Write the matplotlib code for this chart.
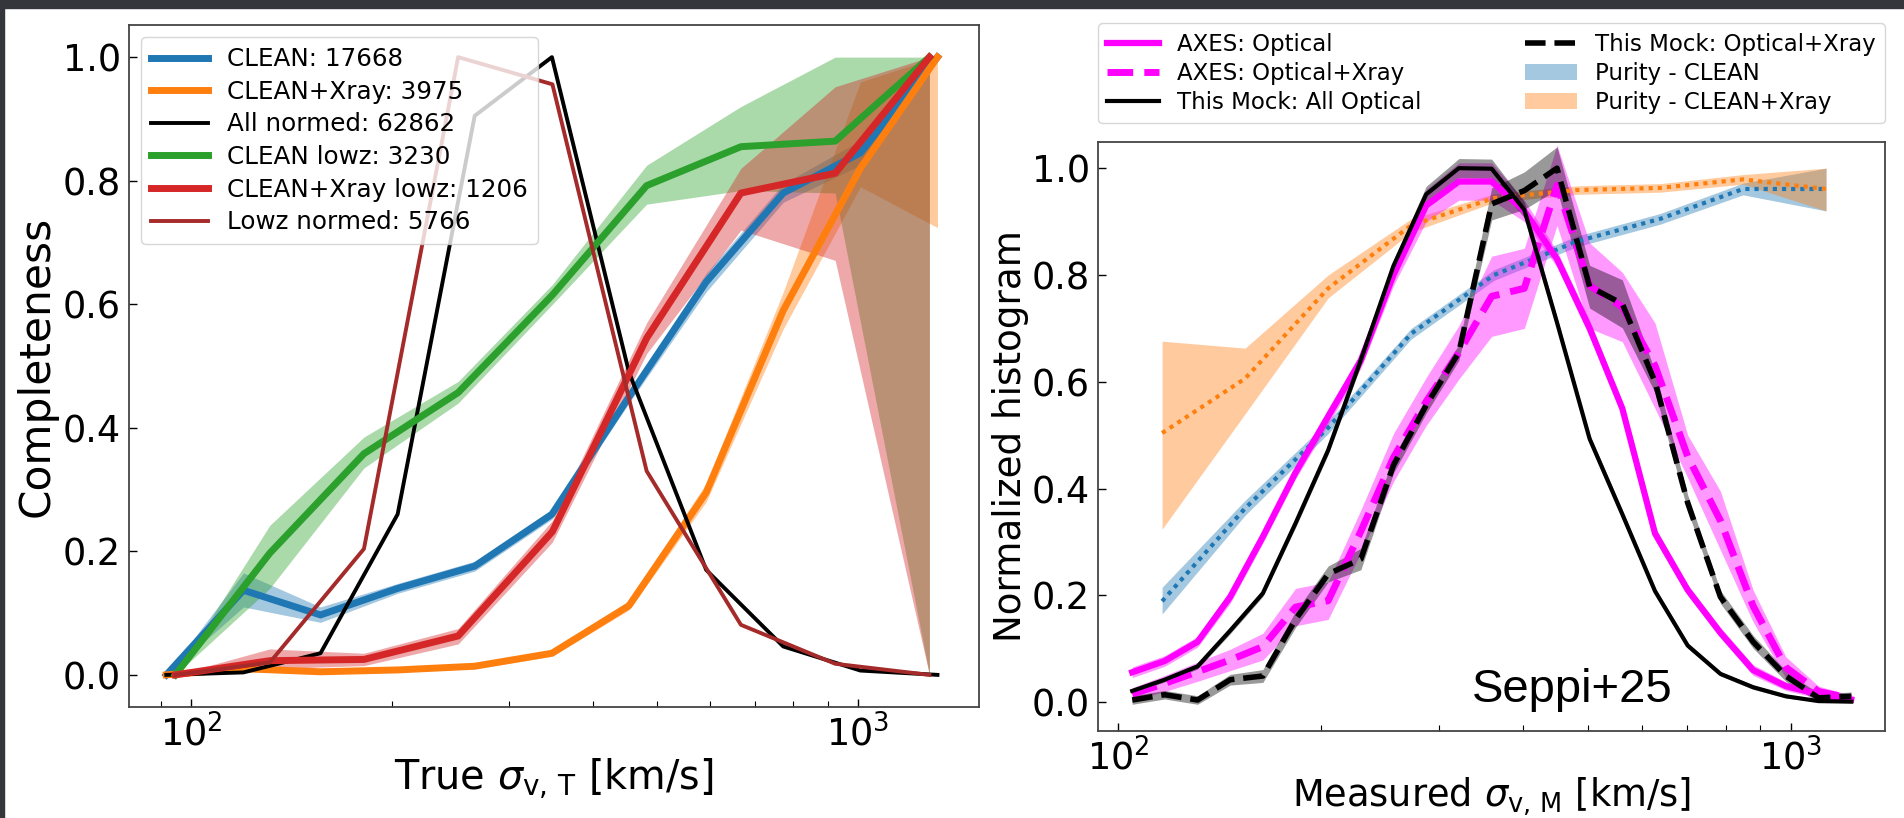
import numpy as np
import matplotlib
matplotlib.use('Agg')
import matplotlib.pyplot as plt
from matplotlib.patches import Rectangle

# ---------------- left panel: completeness ----------------
sig_all = [91.8, 119.8, 156.3, 204.0, 266.2, 347.5, 453.4, 591.8, 772.3, 1007.9, 1315.2]
sig_lowz = [94.7, 131.2, 181.6, 251.4, 348.1, 481.9, 667.3, 923.9, 1279.2]

clean = [0.0, 0.137, 0.097, 0.14, 0.176, 0.26, 0.45, 0.636, 0.78, 0.845, 1.0]
clean_lo = [0.0, 0.11, 0.085, 0.132, 0.168, 0.252, 0.44, 0.62, 0.765, 0.825, 1.0]
clean_hi = [0.0, 0.165, 0.11, 0.148, 0.184, 0.268, 0.46, 0.65, 0.795, 0.865, 1.0]

xray = [0.0, 0.01, 0.005, 0.008, 0.014, 0.035, 0.112, 0.295, 0.59, 0.82, 1.0]
xray_lo = [0.0, 0.005, 0.002, 0.005, 0.01, 0.03, 0.105, 0.28, 0.56, 0.79, 0.724]
xray_hi = [0.0, 0.015, 0.008, 0.011, 0.018, 0.04, 0.12, 0.31, 0.62, 0.96, 1.0]

all_normed = [0.0, 0.004, 0.035, 0.26, 0.905, 1.0, 0.49, 0.17, 0.046, 0.007, 0.0]

clean_lowz = [0.0, 0.197, 0.358, 0.457, 0.615, 0.792, 0.855, 0.864, 1.0]
clean_lowz_lo = [0.0, 0.14, 0.335, 0.44, 0.6, 0.762, 0.784, 0.78, 0.0]
clean_lowz_hi = [0.0, 0.242, 0.385, 0.475, 0.632, 0.825, 0.92, 1.0, 1.0]

xray_lowz = [0.0, 0.023, 0.025, 0.063, 0.232, 0.545, 0.78, 0.812, 1.0]
xray_lowz_lo = [0.0, 0.01, 0.015, 0.05, 0.215, 0.52, 0.72, 0.671, 0.0]
xray_lowz_hi = [0.0, 0.042, 0.035, 0.075, 0.25, 0.57, 0.82, 0.952, 1.0]

lowz_normed = [0.0, 0.02, 0.204, 1.0, 0.956, 0.33, 0.081, 0.018, 0.0]

# ---------------- right panel: histograms + purity ----------------
sig_meas = [105.0, 117.3, 131.3, 146.8, 164.2, 183.6, 205.3, 229.6, 256.7, 287.1, 321.1,
            359.2, 401.7, 449.2, 502.3, 561.7, 628.2, 702.6, 785.8, 878.8, 982.9,
            1099.3, 1229.4]
sig_pur = [116.3, 154.5, 205.3, 272.7, 362.2, 481.3, 639.2, 849.1, 1127.8]

axes_opt = [0.056, 0.077, 0.113, 0.197, 0.31, 0.43, 0.535, 0.64, 0.8, 0.93, 0.975, 0.975,
            0.92, 0.83, 0.7, 0.55, 0.316, 0.21, 0.13, 0.06, 0.03, 0.015, 0.005]
axes_opt_err = [0.01, 0.01, 0.01, 0.012, 0.012, 0.012, 0.015, 0.015, 0.02, 0.03, 0.035, 0.035,
                0.02, 0.015, 0.015, 0.012, 0.012, 0.01, 0.01, 0.01, 0.008, 0.008, 0.006]

axes_xray = [0.015, 0.035, 0.057, 0.079, 0.104, 0.178, 0.19, 0.32, 0.458, 0.563, 0.655, 0.76,
             0.775, 0.968, 0.78, 0.74, 0.63, 0.46, 0.34, 0.18, 0.065, 0.02, 0.007]
axes_xray_err = [0.012, 0.015, 0.018, 0.02, 0.025, 0.035, 0.035, 0.04, 0.045, 0.045, 0.05, 0.075,
                 0.075, 0.075, 0.08, 0.065, 0.08, 0.04, 0.055, 0.03, 0.02, 0.01, 0.006]

mock_all = [0.021, 0.042, 0.067, 0.134, 0.204, 0.335, 0.472, 0.641, 0.817, 0.951, 1.0, 0.999,
            0.922, 0.711, 0.493, 0.352, 0.208, 0.106, 0.053, 0.028, 0.011, 0.002, 0.001]
mock_all_err = [0.004, 0.004, 0.005, 0.006, 0.006, 0.008, 0.008, 0.01, 0.01, 0.015, 0.018, 0.018,
                0.015, 0.01, 0.008, 0.008, 0.006, 0.005, 0.004, 0.004, 0.003, 0.002, 0.002]

mock_xray = [0.004, 0.014, 0.004, 0.042, 0.049, 0.155, 0.24, 0.268, 0.444, 0.556, 0.655, 0.933,
             0.958, 1.0, 0.778, 0.746, 0.6, 0.373, 0.197, 0.113, 0.049, 0.008, 0.011]
mock_xray_err = [0.008, 0.008, 0.008, 0.01, 0.012, 0.015, 0.015, 0.02, 0.015, 0.015, 0.015, 0.03,
                 0.035, 0.04, 0.04, 0.045, 0.02, 0.015, 0.012, 0.012, 0.01, 0.008, 0.008]

pur_clean = [0.189, 0.363, 0.514, 0.69, 0.8, 0.863, 0.905, 0.961, 0.961]
pur_clean_lo = [0.165, 0.35, 0.503, 0.68, 0.79, 0.853, 0.895, 0.95, 0.92]
pur_clean_hi = [0.215, 0.378, 0.526, 0.70, 0.81, 0.873, 0.915, 0.972, 1.0]

pur_xray = [0.504, 0.606, 0.775, 0.893, 0.944, 0.959, 0.963, 0.979, 0.961]
pur_xray_lo = [0.324, 0.54, 0.757, 0.88, 0.936, 0.951, 0.955, 0.97, 0.92]
pur_xray_hi = [0.676, 0.663, 0.8, 0.905, 0.952, 0.967, 0.971, 0.988, 1.0]

plt.rcParams['font.family'] = 'DejaVu Sans'
plt.rcParams['mathtext.fontset'] = 'dejavusans'

fig = plt.figure(figsize=(19.04, 8.18), dpi=100)
fig.patch.set_facecolor('white')

# dark slide border (top and left)
fig.patches.append(Rectangle((0, 1 - 8 / 818), 1, 8 / 818, transform=fig.transFigure,
                             color='#35363b', zorder=-10))
fig.patches.append(Rectangle((0, 0), 4 / 1904, 1, transform=fig.transFigure,
                             color='#35363b', zorder=-10))

ax1 = fig.add_axes([129 / 1904, 111 / 818, 850 / 1904, 682 / 818])
ax2 = fig.add_axes([1098 / 1904, 87 / 818, 787 / 1904, 589 / 818])


def style(ax, size):
    ax.set_xscale('log')
    ax.tick_params(which='both', direction='in', top=False, right=False, labelsize=size)
    ax.tick_params(which='major', length=6, width=1, pad=6)
    ax.tick_params(which='minor', length=4, width=0.8)
    for s in ax.spines.values():
        s.set_color('#444444')
        s.set_linewidth(1.3)


# ---- left ----
ax1.fill_between(sig_all, clean_lo, clean_hi, color='tab:blue', alpha=0.4, lw=0)
ax1.plot(sig_all, clean, color='tab:blue', lw=5, label='CLEAN: 17668')
ax1.fill_between(sig_all, xray_lo, xray_hi, color='tab:orange', alpha=0.4, lw=0)
ax1.plot(sig_all, xray, color='tab:orange', lw=5, label='CLEAN+Xray: 3975')
ax1.plot(sig_all, all_normed, color='black', lw=2.8, label='All normed: 62862')
ax1.fill_between(sig_lowz, clean_lowz_lo, clean_lowz_hi, color='tab:green', alpha=0.4, lw=0)
ax1.plot(sig_lowz, clean_lowz, color='tab:green', lw=5, label='CLEAN lowz: 3230')
ax1.fill_between(sig_lowz, xray_lowz_lo, xray_lowz_hi, color='tab:red', alpha=0.4, lw=0)
ax1.plot(sig_lowz, xray_lowz, color='tab:red', lw=5, label='CLEAN+Xray lowz: 1206')
ax1.plot(sig_lowz, lowz_normed, color='brown', lw=2.8, label='Lowz normed: 5766')

style(ax1, 26.5)
ax1.set_xlim(80.7, 1518)
ax1.set_ylim(-0.052, 1.052)
ax1.set_yticks([0.0, 0.2, 0.4, 0.6, 0.8, 1.0])
xl1 = ax1.set_xlabel(r'True $\sigma_{\rm v,\,T}$ [km/s]', fontsize=29.5)
ax1.xaxis.set_label_coords(0.5, -0.073)
yl1 = ax1.set_ylabel('Completeness', fontsize=26.5)
ax1.yaxis.set_label_coords(-0.0835, 0.5)
leg1_kw = dict(loc='upper left', handlelength=2.3, labelspacing=0.35)
leg1 = ax1.legend(fontsize=17.3, **leg1_kw)

# ---- right ----
m = np.array
ax2.fill_between(sig_pur, pur_clean_lo, pur_clean_hi, color='tab:blue', alpha=0.4, lw=0,
                 label='Purity - CLEAN')
ax2.plot(sig_pur, pur_clean, color='tab:blue', lw=3, ls=(0, (1, 1.2)))
ax2.fill_between(sig_pur, pur_xray_lo, pur_xray_hi, color='tab:orange', alpha=0.4, lw=0,
                 label='Purity - CLEAN+Xray')
ax2.plot(sig_pur, pur_xray, color='tab:orange', lw=3, ls=(0, (1, 1.2)))

ax2.fill_between(sig_meas, m(axes_opt) - m(axes_opt_err), m(axes_opt) + m(axes_opt_err),
                 color='magenta', alpha=0.4, lw=0)
ax2.plot(sig_meas, axes_opt, color='magenta', lw=4.5, label='AXES: Optical')
ax2.fill_between(sig_meas, m(axes_xray) - m(axes_xray_err), m(axes_xray) + m(axes_xray_err),
                 color='magenta', alpha=0.4, lw=0)
ax2.plot(sig_meas, axes_xray, color='magenta', lw=5, ls='--', label='AXES: Optical+Xray')
ax2.fill_between(sig_meas, m(mock_all) - m(mock_all_err), m(mock_all) + m(mock_all_err),
                 color='black', alpha=0.4, lw=0)
ax2.plot(sig_meas, mock_all, color='black', lw=3, label='This Mock: All Optical')
ax2.fill_between(sig_meas, m(mock_xray) - m(mock_xray_err), m(mock_xray) + m(mock_xray_err),
                 color='black', alpha=0.4, lw=0)
ax2.plot(sig_meas, mock_xray, color='black', lw=4, ls='--', label='This Mock: Optical+Xray')

style(ax2, 26.5)
ax2.set_xlim(93.4, 1380)
ax2.set_ylim(-0.054, 1.049)
ax2.set_yticks([0.0, 0.2, 0.4, 0.6, 0.8, 1.0])
xl2 = ax2.set_xlabel(r'Measured $\sigma_{\rm v,\,M}$ [km/s]', fontsize=26)
ax2.xaxis.set_label_coords(0.5, -0.075)
yl2 = ax2.set_ylabel('Normalized histogram', fontsize=27)
ax2.yaxis.set_label_coords(-0.0877, 0.5)

h, lab = ax2.get_legend_handles_labels()
order = ['AXES: Optical', 'AXES: Optical+Xray', 'This Mock: All Optical',
         'This Mock: Optical+Xray', 'Purity - CLEAN', 'Purity - CLEAN+Xray']
hd = dict(zip(lab, h))
leg2_kw = dict(loc='lower left', mode='expand', ncol=2, bbox_to_anchor=(0.0, 1.032, 1.0, 0.1),
               borderaxespad=0, handlelength=2.25, labelspacing=0.27)
leg2 = ax2.legend([hd[k] for k in order], order, fontsize=16.3, **leg2_kw)

ax2.text(0.475, 0.049, 'Seppi+25', transform=ax2.transAxes, fontsize=34,
         family='Liberation Sans', va='baseline', ha='left')

# size the texts so their widths match the widths measured on the reference (pixels)
fig.canvas.draw()
r = fig.canvas.get_renderer()


def rescale(txt, target, vertical=False):
    bb = txt.get_window_extent(r)
    return txt.get_fontsize() * target / (bb.height if vertical else bb.width)


tick_fs = rescale(ax1.get_yticklabels()[-1], 58)
for ax in (ax1, ax2):
    ax.tick_params(which='both', labelsize=tick_fs)
xl1.set_fontsize(rescale(xl1, 320))
xl2.set_fontsize(rescale(xl2, 399))
yl1.set_fontsize(rescale(yl1, 300, vertical=True))
yl2.set_fontsize(rescale(yl2, 412, vertical=True))
fs1 = rescale(leg1.get_texts()[4], 300)
fs2 = rescale(leg2.get_texts()[3], 281)
leg1.remove()
leg2.remove()
ax1.legend(fontsize=fs1, **leg1_kw)
ax2.legend([hd[k] for k in order], order, fontsize=fs2, **leg2_kw)

fig.savefig('out.png', dpi=100, facecolor='white')
